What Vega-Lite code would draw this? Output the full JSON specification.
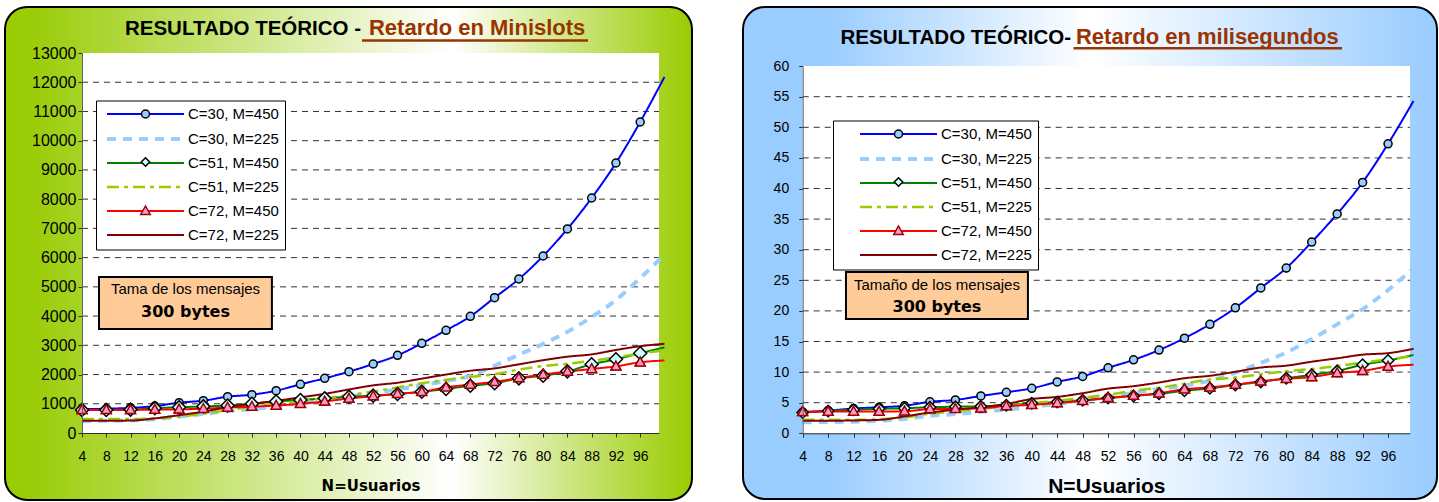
{
  "$schema": "https://vega.github.io/schema/vega-lite/v6.json",
  "padding": {"left": 4, "top": 6, "right": 1, "bottom": 1},
  "background": "white",
  "config": {"font": "Liberation Sans", "view": {"stroke": null}, "axis": {"labelOverlap": false, "labelFlush": false, "grid": false, "tickCount": 100}},
  "datasets": {
    "minislots": [
      {"n": 4, "C=30, M=450": 820, "C=30, M=225": 410, "C=51, M=450": 790, "C=51, M=225": 480, "C=72, M=450": 790, "C=72, M=225": 420},
      {"n": 8, "C=30, M=450": 830, "C=30, M=225": 420, "C=51, M=450": 790, "C=51, M=225": 480, "C=72, M=450": 790, "C=72, M=225": 420},
      {"n": 12, "C=30, M=450": 860, "C=30, M=225": 430, "C=51, M=450": 800, "C=51, M=225": 480, "C=72, M=450": 790, "C=72, M=225": 425},
      {"n": 16, "C=30, M=450": 920, "C=30, M=225": 470, "C=51, M=450": 850, "C=51, M=225": 500, "C=72, M=450": 800, "C=72, M=225": 500},
      {"n": 20, "C=30, M=450": 1037, "C=30, M=225": 560, "C=51, M=450": 880, "C=51, M=225": 560, "C=72, M=450": 810, "C=72, M=225": 610},
      {"n": 24, "C=30, M=450": 1106, "C=30, M=225": 650, "C=51, M=450": 910, "C=51, M=225": 660, "C=72, M=450": 830, "C=72, M=225": 730},
      {"n": 28, "C=30, M=450": 1243, "C=30, M=225": 750, "C=51, M=450": 940, "C=51, M=225": 780, "C=72, M=450": 870, "C=72, M=225": 880},
      {"n": 32, "C=30, M=450": 1311, "C=30, M=225": 820, "C=51, M=450": 1000, "C=51, M=225": 900, "C=72, M=450": 900, "C=72, M=225": 1000},
      {"n": 36, "C=30, M=450": 1448, "C=30, M=225": 910, "C=51, M=450": 1080, "C=51, M=225": 1000, "C=72, M=450": 940, "C=72, M=225": 1100},
      {"n": 40, "C=30, M=450": 1665, "C=30, M=225": 1010, "C=51, M=450": 1130, "C=51, M=225": 1090, "C=72, M=450": 1000, "C=72, M=225": 1220},
      {"n": 44, "C=30, M=450": 1870, "C=30, M=225": 1120, "C=51, M=450": 1185, "C=51, M=225": 1190, "C=72, M=450": 1080, "C=72, M=225": 1340},
      {"n": 48, "C=30, M=450": 2098, "C=30, M=225": 1240, "C=51, M=450": 1240, "C=51, M=225": 1300, "C=72, M=450": 1180, "C=72, M=225": 1490},
      {"n": 52, "C=30, M=450": 2361, "C=30, M=225": 1360, "C=51, M=450": 1277, "C=51, M=225": 1420, "C=72, M=450": 1260, "C=72, M=225": 1630},
      {"n": 56, "C=30, M=450": 2657, "C=30, M=225": 1490, "C=51, M=450": 1334, "C=51, M=225": 1560, "C=72, M=450": 1340, "C=72, M=225": 1720},
      {"n": 60, "C=30, M=450": 3068, "C=30, M=225": 1630, "C=51, M=450": 1413, "C=51, M=225": 1700, "C=72, M=450": 1410, "C=72, M=225": 1860},
      {"n": 64, "C=30, M=450": 3513, "C=30, M=225": 1780, "C=51, M=450": 1505, "C=51, M=225": 1820, "C=72, M=450": 1560, "C=72, M=225": 2000},
      {"n": 68, "C=30, M=450": 3991, "C=30, M=225": 1950, "C=51, M=450": 1618, "C=51, M=225": 1920, "C=72, M=450": 1660, "C=72, M=225": 2130},
      {"n": 72, "C=30, M=450": 4630, "C=30, M=225": 2300, "C=51, M=450": 1700, "C=51, M=225": 2010, "C=72, M=450": 1750, "C=72, M=225": 2210},
      {"n": 76, "C=30, M=450": 5268, "C=30, M=225": 2680, "C=51, M=450": 1870, "C=51, M=225": 2170, "C=72, M=450": 1880, "C=72, M=225": 2350},
      {"n": 80, "C=30, M=450": 6055, "C=30, M=225": 3050, "C=51, M=450": 1960, "C=51, M=225": 2290, "C=72, M=450": 2000, "C=72, M=225": 2490},
      {"n": 84, "C=30, M=450": 6980, "C=30, M=225": 3460, "C=51, M=450": 2110, "C=51, M=225": 2370, "C=72, M=450": 2100, "C=72, M=225": 2610},
      {"n": 88, "C=30, M=450": 8040, "C=30, M=225": 3970, "C=51, M=450": 2350, "C=51, M=225": 2470, "C=72, M=450": 2190, "C=72, M=225": 2690},
      {"n": 92, "C=30, M=450": 9237, "C=30, M=225": 4550, "C=51, M=450": 2521, "C=51, M=225": 2590, "C=72, M=450": 2280, "C=72, M=225": 2840},
      {"n": 96, "C=30, M=450": 10640, "C=30, M=225": 5300, "C=51, M=450": 2727, "C=51, M=225": 2720, "C=72, M=450": 2420, "C=72, M=225": 2970},
      {"n": 100, "C=30, M=450": 12180, "C=30, M=225": 6100, "C=51, M=450": 2932, "C=51, M=225": 2830, "C=72, M=450": 2480, "C=72, M=225": 3050}
    ],
    "ms": [
      {"n": 4, "C=30, M=450": 3.45, "C=30, M=225": 1.8, "C=51, M=450": 3.4, "C=51, M=225": 2.2, "C=72, M=450": 3.5, "C=72, M=225": 2.05},
      {"n": 8, "C=30, M=450": 3.7, "C=30, M=225": 1.85, "C=51, M=450": 3.65, "C=51, M=225": 2.2, "C=72, M=450": 3.55, "C=72, M=225": 2.05},
      {"n": 12, "C=30, M=450": 4.05, "C=30, M=225": 1.9, "C=51, M=450": 3.85, "C=51, M=225": 2.2, "C=72, M=450": 3.55, "C=72, M=225": 2.1},
      {"n": 16, "C=30, M=450": 4.25, "C=30, M=225": 2.05, "C=51, M=450": 4.0, "C=51, M=225": 2.3, "C=72, M=450": 3.55, "C=72, M=225": 2.2},
      {"n": 20, "C=30, M=450": 4.5, "C=30, M=225": 2.35, "C=51, M=450": 4.1, "C=51, M=225": 2.6, "C=72, M=450": 3.6, "C=72, M=225": 2.75},
      {"n": 24, "C=30, M=450": 5.15, "C=30, M=225": 2.85, "C=51, M=450": 4.25, "C=51, M=225": 3.2, "C=72, M=450": 3.95, "C=72, M=225": 3.4},
      {"n": 28, "C=30, M=450": 5.45, "C=30, M=225": 3.15, "C=51, M=450": 4.35, "C=51, M=225": 3.6, "C=72, M=450": 4.0, "C=72, M=225": 3.85},
      {"n": 32, "C=30, M=450": 6.1, "C=30, M=225": 3.5, "C=51, M=450": 4.4, "C=51, M=225": 4.0, "C=72, M=450": 4.1, "C=72, M=225": 4.25},
      {"n": 36, "C=30, M=450": 6.7, "C=30, M=225": 3.9, "C=51, M=450": 4.6, "C=51, M=225": 4.4, "C=72, M=450": 4.45, "C=72, M=225": 4.8},
      {"n": 40, "C=30, M=450": 7.35, "C=30, M=225": 4.3, "C=51, M=450": 4.9, "C=51, M=225": 4.9, "C=72, M=450": 4.65, "C=72, M=225": 5.6},
      {"n": 44, "C=30, M=450": 8.4, "C=30, M=225": 4.8, "C=51, M=450": 5.1, "C=51, M=225": 5.3, "C=72, M=450": 4.95, "C=72, M=225": 5.95},
      {"n": 48, "C=30, M=450": 9.3, "C=30, M=225": 5.35, "C=51, M=450": 5.4, "C=51, M=225": 5.8, "C=72, M=450": 5.3, "C=72, M=225": 6.55},
      {"n": 52, "C=30, M=450": 10.7, "C=30, M=225": 5.95, "C=51, M=450": 5.75, "C=51, M=225": 6.3, "C=72, M=450": 5.8, "C=72, M=225": 7.3},
      {"n": 56, "C=30, M=450": 12.0, "C=30, M=225": 6.6, "C=51, M=450": 6.1, "C=51, M=225": 6.95, "C=72, M=450": 6.15, "C=72, M=225": 7.7},
      {"n": 60, "C=30, M=450": 13.6, "C=30, M=225": 7.2, "C=51, M=450": 6.45, "C=51, M=225": 7.45, "C=72, M=450": 6.55, "C=72, M=225": 8.3},
      {"n": 64, "C=30, M=450": 15.55, "C=30, M=225": 7.8, "C=51, M=450": 6.95, "C=51, M=225": 8.1, "C=72, M=450": 7.2, "C=72, M=225": 9.0},
      {"n": 68, "C=30, M=450": 17.8, "C=30, M=225": 8.6, "C=51, M=450": 7.35, "C=51, M=225": 8.8, "C=72, M=450": 7.5, "C=72, M=225": 9.4},
      {"n": 72, "C=30, M=450": 20.5, "C=30, M=225": 9.9, "C=51, M=450": 7.9, "C=51, M=225": 9.1, "C=72, M=450": 7.95, "C=72, M=225": 10.05},
      {"n": 76, "C=30, M=450": 23.75, "C=30, M=225": 11.5, "C=51, M=450": 8.4, "C=51, M=225": 9.65, "C=72, M=450": 8.5, "C=72, M=225": 10.75},
      {"n": 80, "C=30, M=450": 27.0, "C=30, M=225": 13.2, "C=51, M=450": 9.0, "C=51, M=225": 10.15, "C=72, M=450": 8.9, "C=72, M=225": 11.05},
      {"n": 84, "C=30, M=450": 31.25, "C=30, M=225": 15.4, "C=51, M=450": 9.55, "C=51, M=225": 10.5, "C=72, M=450": 9.2, "C=72, M=225": 11.7},
      {"n": 88, "C=30, M=450": 35.85, "C=30, M=225": 17.8, "C=51, M=450": 10.2, "C=51, M=225": 11.0, "C=72, M=450": 9.85, "C=72, M=225": 12.25},
      {"n": 92, "C=30, M=450": 41.0, "C=30, M=225": 20.3, "C=51, M=450": 11.2, "C=51, M=225": 11.55, "C=72, M=450": 10.2, "C=72, M=225": 12.85},
      {"n": 96, "C=30, M=450": 47.3, "C=30, M=225": 23.4, "C=51, M=450": 11.9, "C=51, M=225": 12.1, "C=72, M=450": 10.9, "C=72, M=225": 13.1},
      {"n": 100, "C=30, M=450": 54.3, "C=30, M=225": 27.0, "C=51, M=450": 12.8, "C=51, M=225": 12.6, "C=72, M=450": 11.2, "C=72, M=225": 13.8}
    ],
    "gridL": [{"g": 1000}, {"g": 2000}, {"g": 3000}, {"g": 4000}, {"g": 5000}, {"g": 6000}, {"g": 7000}, {"g": 8000}, {"g": 9000}, {"g": 10000}, {"g": 11000}, {"g": 12000}],
    "gridR": [{"g": 5}, {"g": 10}, {"g": 15}, {"g": 20}, {"g": 25}, {"g": 30}, {"g": 35}, {"g": 40}, {"g": 45}, {"g": 50}, {"g": 55}]
  },
  "spacing": 51,
  "bounds": "flush",
  "resolve": {
    "scale": {"color": "independent", "strokeDash": "independent", "strokeWidth": "independent", "shape": "independent", "fill": "independent", "stroke": "independent"},
    "legend": {"color": "independent", "strokeDash": "independent", "strokeWidth": "independent", "shape": "independent", "fill": "independent", "stroke": "independent"}
  },
  "hconcat": [
    {
      "width": 687,
      "height": 493,
      "view": {
        "fill": {"gradient": "linear", "x1": 0, "y1": 0, "x2": 1, "y2": 0, "stops": [{"offset": 0, "color": "#99CC00"}, {"offset": 0.04, "color": "#9ACD08"}, {"offset": 0.65, "color": "#FFFFFF"}, {"offset": 1, "color": "#99CC00"}]},
        "stroke": "black", "strokeWidth": 2, "cornerRadius": 22
      },
      "layer": [
        {
          "data": {"values": [{}]},
          "mark": {"type": "rect", "fill": "white"},
          "encoding": {
            "x": {"datum": 4, "type": "quantitative", "axis": {"labelOverlap": false, "tickCount": 100}},
            "x2": {"datum": 99.1},
            "y": {"datum": 0, "type": "quantitative", "title": null, "axis": {"labelOverlap": false, "tickCount": 100}},
            "y2": {"datum": 13000}
          }
        },
        {
          "data": {"name": "gridL"},
          "mark": {"type": "rule", "color": "#333333", "strokeDash": [6, 5], "strokeWidth": 1},
          "encoding": {
            "y": {"field": "g", "type": "quantitative", "title": null, "axis": {"labelOverlap": false, "tickCount": 100}},
            "x": {"datum": 4, "type": "quantitative", "axis": {"labelOverlap": false, "tickCount": 100}},
            "x2": {"datum": 99.1}
          }
        },
        {
          "data": {"name": "minislots"},
          "transform": [{"fold": ["C=30, M=450", "C=30, M=225", "C=51, M=450", "C=51, M=225", "C=72, M=450", "C=72, M=225"], "as": ["serie", "v"]}],
          "mark": {"type": "line", "interpolate": "monotone"},
          "encoding": {
            "x": {"field": "n", "type": "quantitative",
                  "scale": {"domain": [4, 99.1], "range": [77, 654], "nice": false, "zero": false},
                  "axis": {"values": [4, 8, 12, 16, 20, 24, 28, 32, 36, 40, 44, 48, 52, 56, 60, 64, 68, 72, 76, 80, 84, 88, 92, 96], "tickCount": 100, "format": "d", "title": "N=Usuarios", "offset": -67, "grid": false, "domainColor": "#303030", "tickColor": "#303030", "tickSize": 4, "labelFont": "Liberation Sans", "labelFontSize": 14, "labelColor": "black", "labelPadding": 12, "labelFlush": false, "labelOverlap": false, "titleFont": "DejaVu Sans", "titleFontSize": 15, "titleFontWeight": "bold", "titleColor": "black", "titlePadding": 15, "zindex": 1}},
            "y": {"field": "v", "type": "quantitative", "title": null,
                  "scale": {"domain": [0, 13000], "range": [426, 46], "nice": false, "zero": false},
                  "axis": {"values": [0, 1000, 2000, 3000, 4000, 5000, 6000, 7000, 8000, 9000, 10000, 11000, 12000, 13000], "tickCount": 100, "format": "d", "offset": -77, "grid": false, "domainColor": "#606060", "tickColor": "#303030", "tickSize": 4, "labelFont": "Liberation Sans", "labelFontSize": 16, "labelColor": "black", "labelPadding": 2, "labelFlush": false, "labelOverlap": false, "zindex": 1}},
            "color": {"field": "serie", "type": "nominal",
              "scale": {"domain": ["C=30, M=450", "C=30, M=225", "C=51, M=450", "C=51, M=225", "C=72, M=450", "C=72, M=225"], "range": ["#0000FF", "#99CCFF", "#008000", "#99CC00", "#FF0000", "#800000"]},
              "legend": {"orient": "none", "legendX": 91, "legendY": 93.5, "title": null, "symbolType": "M-7.7,0H7.7", "symbolSize": 100, "symbolOffset": 36, "labelFont": "Liberation Sans", "labelFontSize": 15, "labelColor": "black", "labelOffset": 35, "rowPadding": 8, "padding": 6, "fillColor": "white", "strokeColor": "black", "zindex": 1}},
            "strokeDash": {"field": "serie", "type": "nominal",
              "scale": {"domain": ["C=30, M=450", "C=30, M=225", "C=51, M=450", "C=51, M=225", "C=72, M=450", "C=72, M=225"], "range": [[1, 0], [9, 7], [1, 0], [12, 5, 4, 5], [1, 0], [1, 0]]},
              "legend": {"orient": "none", "legendX": 91, "legendY": 93.5, "title": null, "symbolType": "M-7.7,0H7.7", "symbolSize": 100, "symbolOffset": 36, "labelFont": "Liberation Sans", "labelFontSize": 15, "labelColor": "black", "labelOffset": 35, "rowPadding": 8, "padding": 6, "fillColor": "white", "strokeColor": "black", "zindex": 1}},
            "strokeWidth": {"field": "serie", "type": "nominal",
              "scale": {"type": "ordinal", "domain": ["C=30, M=450", "C=30, M=225", "C=51, M=450", "C=51, M=225", "C=72, M=450", "C=72, M=225"], "range": [2, 4, 2, 2.5, 2, 2]},
              "legend": {"orient": "none", "legendX": 91, "legendY": 93.5, "title": null, "symbolType": "M-7.7,0H7.7", "symbolSize": 100, "symbolOffset": 36, "labelFont": "Liberation Sans", "labelFontSize": 15, "labelColor": "black", "labelOffset": 35, "rowPadding": 8, "padding": 6, "fillColor": "white", "strokeColor": "black", "zindex": 1}}
          }
        },
        {
          "data": {"name": "minislots"},
          "transform": [{"fold": ["C=30, M=450", "C=30, M=225", "C=51, M=450", "C=51, M=225", "C=72, M=450", "C=72, M=225"], "as": ["serie", "v"]}, {"filter": "datum.n <= 96"}],
          "mark": {"type": "point", "filled": true, "opacity": 1, "strokeWidth": 1.5, "size": 100},
          "encoding": {
            "x": {"field": "n", "type": "quantitative", "axis": {"labelOverlap": false, "tickCount": 100}},
            "y": {"field": "v", "type": "quantitative", "title": null, "axis": {"labelOverlap": false, "tickCount": 100}},
            "shape": {"field": "serie", "type": "nominal",
              "scale": {"domain": ["C=30, M=450", "C=30, M=225", "C=51, M=450", "C=51, M=225", "C=72, M=450", "C=72, M=225", "C=30, M=450"], "range": ["M0.8,0A0.8,0.8,0,1,1,-0.8,0A0.8,0.8,0,1,1,0.8,0Z", "M0,0", "M0,-0.85L0.85,0L0,0.85L-0.85,0Z", "M0,0", "M0,-1L0.95,0.7L-0.95,0.7Z", "M0,0"]},
              "legend": {"orient": "none", "legendX": 91, "legendY": 93.5, "title": null, "symbolSize": 100, "symbolOffset": 36, "symbolStrokeWidth": 1.5, "labelFont": "Liberation Sans", "labelFontSize": 15, "labelColor": "transparent", "labelOffset": 35, "rowPadding": 8, "padding": 6, "zindex": 2}},
            "fill": {"field": "serie", "type": "nominal",
              "scale": {"domain": ["C=30, M=450", "C=30, M=225", "C=51, M=450", "C=51, M=225", "C=72, M=450", "C=72, M=225", "C=30, M=450"], "range": ["#99CCFF", "transparent", "#CCFFFF", "transparent", "#FF99CC", "transparent"]},
              "legend": {"orient": "none", "legendX": 91, "legendY": 93.5, "title": null, "symbolSize": 100, "symbolOffset": 36, "symbolStrokeWidth": 1.5, "labelFont": "Liberation Sans", "labelFontSize": 15, "labelColor": "transparent", "labelOffset": 35, "rowPadding": 8, "padding": 6, "zindex": 2}},
            "stroke": {"field": "serie", "type": "nominal",
              "scale": {"domain": ["C=30, M=450", "C=30, M=225", "C=51, M=450", "C=51, M=225", "C=72, M=450", "C=72, M=225", "C=30, M=450"], "range": ["black", "transparent", "black", "transparent", "#990000", "transparent"]},
              "legend": {"orient": "none", "legendX": 91, "legendY": 93.5, "title": null, "symbolSize": 100, "symbolOffset": 36, "symbolStrokeWidth": 1.5, "labelFont": "Liberation Sans", "labelFontSize": 15, "labelColor": "transparent", "labelOffset": 35, "rowPadding": 8, "padding": 6, "zindex": 2}}
          }
        },
        {
          "data": {"name": "minislots"},
          "transform": [{"fold": ["C=51, M=450"], "as": ["serie", "v"]}, {"filter": "datum.n <= 96"}],
          "mark": {"type": "point", "filled": true, "opacity": 1, "strokeWidth": 1.5, "size": 234, "shape": "M0,-0.85L0.85,0L0,0.85L-0.85,0Z", "fill": "#CCFFFF", "stroke": "black"},
          "encoding": {
            "x": {"field": "n", "type": "quantitative", "axis": {"labelOverlap": false, "tickCount": 100}},
            "y": {"field": "v", "type": "quantitative", "title": null, "axis": {"labelOverlap": false, "tickCount": 100}}
          }
        },
        {
          "data": {"name": "minislots"},
          "transform": [{"fold": ["C=72, M=450"], "as": ["serie", "v"]}, {"filter": "datum.n <= 96"}],
          "mark": {"type": "point", "filled": true, "opacity": 1, "strokeWidth": 1.5, "size": 110, "shape": "M0,-1L0.95,0.7L-0.95,0.7Z", "fill": "#FF99CC", "stroke": "#990000"},
          "encoding": {
            "x": {"field": "n", "type": "quantitative", "axis": {"labelOverlap": false, "tickCount": 100}},
            "y": {"field": "v", "type": "quantitative", "title": null, "axis": {"labelOverlap": false, "tickCount": 100}}
          }
        },
        {
          "data": {"values": [{}]},
          "mark": {"type": "rect", "fill": "#FFCC99", "stroke": "black", "strokeWidth": 2},
          "encoding": {
            "x": {"datum": 6.8, "type": "quantitative", "axis": {"labelOverlap": false, "tickCount": 100}},
            "x2": {"datum": 35.3},
            "y": {"datum": 5337, "type": "quantitative", "title": null, "axis": {"labelOverlap": false, "tickCount": 100}},
            "y2": {"datum": 3558}
          }
        },
        {
          "data": {"values": [{}]},
          "mark": {"type": "text", "text": "Tama de los mensajes", "font": "Liberation Sans", "fontSize": 15, "color": "black", "align": "center", "baseline": "middle"},
          "encoding": {"x": {"datum": 21.06, "type": "quantitative", "axis": {"labelOverlap": false, "tickCount": 100}}, "y": {"datum": 4926, "type": "quantitative", "title": null, "axis": {"labelOverlap": false, "tickCount": 100}}}
        },
        {
          "data": {"values": [{}]},
          "mark": {"type": "text", "text": "300 bytes", "font": "DejaVu Sans", "fontSize": 16, "fontWeight": "bold", "color": "black", "align": "center", "baseline": "middle"},
          "encoding": {"x": {"datum": 21.06, "type": "quantitative", "axis": {"labelOverlap": false, "tickCount": 100}}, "y": {"datum": 4140, "type": "quantitative", "title": null, "axis": {"labelOverlap": false, "tickCount": 100}}}
        },
        {
          "data": {"values": [{}]},
          "mark": {"type": "text", "text": "RESULTADO TEÓRICO -", "font": "Liberation Sans", "fontSize": 20.5, "fontWeight": "bold", "color": "black", "align": "right", "baseline": "alphabetic"},
          "encoding": {"x": {"datum": 50.0, "type": "quantitative", "axis": {"labelOverlap": false, "tickCount": 100}}, "y": {"datum": 13616, "type": "quantitative", "title": null, "axis": {"labelOverlap": false, "tickCount": 100}}}
        },
        {
          "data": {"values": [{}]},
          "mark": {"type": "text", "text": "Retardo en Minislots", "font": "Liberation Sans", "fontSize": 22, "fontWeight": "bold", "color": "#993300", "align": "left", "baseline": "alphabetic"},
          "encoding": {"x": {"datum": 51.3, "type": "quantitative", "axis": {"labelOverlap": false, "tickCount": 100}}, "y": {"datum": 13616, "type": "quantitative", "title": null, "axis": {"labelOverlap": false, "tickCount": 100}}}
        },
        {
          "data": {"values": [{}]},
          "mark": {"type": "rule", "color": "#993300", "strokeWidth": 2.5},
          "encoding": {"x": {"datum": 50.15, "type": "quantitative", "axis": {"labelOverlap": false, "tickCount": 100}}, "x2": {"datum": 87.4}, "y": {"datum": 13428, "type": "quantitative", "title": null, "axis": {"labelOverlap": false, "tickCount": 100}}}
        }
      ]
    },
    {
      "width": 694,
      "height": 492,
      "view": {
        "fill": {"gradient": "linear", "x1": 0, "y1": 0, "x2": 1, "y2": 0, "stops": [{"offset": 0, "color": "#99CCFF"}, {"offset": 0.12, "color": "#99CCFF"}, {"offset": 0.5, "color": "#FFFFFF"}, {"offset": 1, "color": "#99CCFF"}]},
        "stroke": "black", "strokeWidth": 2, "cornerRadius": 22
      },
      "layer": [
        {
          "data": {"values": [{}]},
          "mark": {"type": "rect", "fill": "white"},
          "encoding": {
            "x": {"datum": 4, "type": "quantitative", "axis": {"labelOverlap": false, "tickCount": 100}},
            "x2": {"datum": 99.45},
            "y": {"datum": 0, "type": "quantitative", "title": null, "axis": {"labelOverlap": false, "tickCount": 100}},
            "y2": {"datum": 60}
          }
        },
        {
          "data": {"name": "gridR"},
          "mark": {"type": "rule", "color": "#333333", "strokeDash": [6, 5], "strokeWidth": 1},
          "encoding": {
            "y": {"field": "g", "type": "quantitative", "title": null, "axis": {"labelOverlap": false, "tickCount": 100}},
            "x": {"datum": 4, "type": "quantitative", "axis": {"labelOverlap": false, "tickCount": 100}},
            "x2": {"datum": 99.45}
          }
        },
        {
          "data": {"name": "ms"},
          "transform": [{"fold": ["C=30, M=450", "C=30, M=225", "C=51, M=450", "C=51, M=225", "C=72, M=450", "C=72, M=225"], "as": ["serie", "v"]}],
          "mark": {"type": "line", "interpolate": "monotone"},
          "encoding": {
            "x": {"field": "n", "type": "quantitative",
                  "scale": {"domain": [4, 99.45], "range": [59.7, 667], "nice": false, "zero": false},
                  "axis": {"values": [4, 8, 12, 16, 20, 24, 28, 32, 36, 40, 44, 48, 52, 56, 60, 64, 68, 72, 76, 80, 84, 88, 92, 96], "tickCount": 100, "format": "d", "title": "N=Usuarios", "offset": -65.7, "grid": false, "domainColor": "#303030", "tickColor": "#303030", "tickSize": 4, "labelFont": "Liberation Sans", "labelFontSize": 14, "labelColor": "black", "labelPadding": 12, "labelFlush": false, "labelOverlap": false, "titleFont": "Liberation Sans", "titleFontSize": 21, "titleFontWeight": "bold", "titleColor": "black", "titlePadding": 12, "zindex": 1}},
            "y": {"field": "v", "type": "quantitative", "title": null,
                  "scale": {"domain": [0, 60], "range": [426.3, 59.1], "nice": false, "zero": false},
                  "axis": {"values": [0, 5, 10, 15, 20, 25, 30, 35, 40, 45, 50, 55, 60], "tickCount": 100, "format": "d", "offset": -59.7, "grid": false, "domainColor": "#606060", "tickColor": "#303030", "tickSize": 4, "labelFont": "Liberation Sans", "labelFontSize": 14, "labelColor": "black", "labelPadding": 10, "labelFlush": false, "labelOverlap": false, "zindex": 1}},
            "color": {"field": "serie", "type": "nominal",
              "scale": {"domain": ["C=30, M=450", "C=30, M=225", "C=51, M=450", "C=51, M=225", "C=72, M=450", "C=72, M=225"], "range": ["#0000FF", "#99CCFF", "#008000", "#99CC00", "#FF0000", "#800000"]},
              "legend": {"orient": "none", "legendX": 90, "legendY": 113.5, "title": null, "symbolType": "M-7.7,0H7.7", "symbolSize": 100, "symbolOffset": 52, "labelFont": "Liberation Sans", "labelFontSize": 15, "labelColor": "black", "labelOffset": 35, "rowPadding": 8, "padding": 6, "fillColor": "white", "strokeColor": "black", "zindex": 1}},
            "strokeDash": {"field": "serie", "type": "nominal",
              "scale": {"domain": ["C=30, M=450", "C=30, M=225", "C=51, M=450", "C=51, M=225", "C=72, M=450", "C=72, M=225"], "range": [[1, 0], [9, 7], [1, 0], [12, 5, 4, 5], [1, 0], [1, 0]]},
              "legend": {"orient": "none", "legendX": 90, "legendY": 113.5, "title": null, "symbolType": "M-7.7,0H7.7", "symbolSize": 100, "symbolOffset": 52, "labelFont": "Liberation Sans", "labelFontSize": 15, "labelColor": "black", "labelOffset": 35, "rowPadding": 8, "padding": 6, "fillColor": "white", "strokeColor": "black", "zindex": 1}},
            "strokeWidth": {"field": "serie", "type": "nominal",
              "scale": {"type": "ordinal", "domain": ["C=30, M=450", "C=30, M=225", "C=51, M=450", "C=51, M=225", "C=72, M=450", "C=72, M=225"], "range": [2, 4, 2, 2.5, 2, 2]},
              "legend": {"orient": "none", "legendX": 90, "legendY": 113.5, "title": null, "symbolType": "M-7.7,0H7.7", "symbolSize": 100, "symbolOffset": 52, "labelFont": "Liberation Sans", "labelFontSize": 15, "labelColor": "black", "labelOffset": 35, "rowPadding": 8, "padding": 6, "fillColor": "white", "strokeColor": "black", "zindex": 1}}
          }
        },
        {
          "data": {"name": "ms"},
          "transform": [{"fold": ["C=30, M=450", "C=30, M=225", "C=51, M=450", "C=51, M=225", "C=72, M=450", "C=72, M=225"], "as": ["serie", "v"]}, {"filter": "datum.n <= 96"}],
          "mark": {"type": "point", "filled": true, "opacity": 1, "strokeWidth": 1.5, "size": 100},
          "encoding": {
            "x": {"field": "n", "type": "quantitative", "axis": {"labelOverlap": false, "tickCount": 100}},
            "y": {"field": "v", "type": "quantitative", "title": null, "axis": {"labelOverlap": false, "tickCount": 100}},
            "shape": {"field": "serie", "type": "nominal",
              "scale": {"domain": ["C=30, M=450", "C=30, M=225", "C=51, M=450", "C=51, M=225", "C=72, M=450", "C=72, M=225", "C=30, M=450"], "range": ["M0.8,0A0.8,0.8,0,1,1,-0.8,0A0.8,0.8,0,1,1,0.8,0Z", "M0,0", "M0,-0.85L0.85,0L0,0.85L-0.85,0Z", "M0,0", "M0,-1L0.95,0.7L-0.95,0.7Z", "M0,0"]},
              "legend": {"orient": "none", "legendX": 90, "legendY": 113.5, "title": null, "symbolSize": 100, "symbolOffset": 52, "symbolStrokeWidth": 1.5, "labelFont": "Liberation Sans", "labelFontSize": 15, "labelColor": "transparent", "labelOffset": 35, "rowPadding": 8, "padding": 6, "zindex": 2}},
            "fill": {"field": "serie", "type": "nominal",
              "scale": {"domain": ["C=30, M=450", "C=30, M=225", "C=51, M=450", "C=51, M=225", "C=72, M=450", "C=72, M=225", "C=30, M=450"], "range": ["#99CCFF", "transparent", "#CCFFFF", "transparent", "#FF99CC", "transparent"]},
              "legend": {"orient": "none", "legendX": 90, "legendY": 113.5, "title": null, "symbolSize": 100, "symbolOffset": 52, "symbolStrokeWidth": 1.5, "labelFont": "Liberation Sans", "labelFontSize": 15, "labelColor": "transparent", "labelOffset": 35, "rowPadding": 8, "padding": 6, "zindex": 2}},
            "stroke": {"field": "serie", "type": "nominal",
              "scale": {"domain": ["C=30, M=450", "C=30, M=225", "C=51, M=450", "C=51, M=225", "C=72, M=450", "C=72, M=225", "C=30, M=450"], "range": ["black", "transparent", "black", "transparent", "#990000", "transparent"]},
              "legend": {"orient": "none", "legendX": 90, "legendY": 113.5, "title": null, "symbolSize": 100, "symbolOffset": 52, "symbolStrokeWidth": 1.5, "labelFont": "Liberation Sans", "labelFontSize": 15, "labelColor": "transparent", "labelOffset": 35, "rowPadding": 8, "padding": 6, "zindex": 2}}
          }
        },
        {
          "data": {"name": "ms"},
          "transform": [{"fold": ["C=51, M=450"], "as": ["serie", "v"]}, {"filter": "datum.n <= 96"}],
          "mark": {"type": "point", "filled": true, "opacity": 1, "strokeWidth": 1.5, "size": 180, "shape": "M0,-0.85L0.85,0L0,0.85L-0.85,0Z", "fill": "#CCFFFF", "stroke": "black"},
          "encoding": {
            "x": {"field": "n", "type": "quantitative", "axis": {"labelOverlap": false, "tickCount": 100}},
            "y": {"field": "v", "type": "quantitative", "title": null, "axis": {"labelOverlap": false, "tickCount": 100}}
          }
        },
        {
          "data": {"name": "ms"},
          "transform": [{"fold": ["C=72, M=450"], "as": ["serie", "v"]}, {"filter": "datum.n <= 96"}],
          "mark": {"type": "point", "filled": true, "opacity": 1, "strokeWidth": 1.5, "size": 110, "shape": "M0,-1L0.95,0.7L-0.95,0.7Z", "fill": "#FF99CC", "stroke": "#990000"},
          "encoding": {
            "x": {"field": "n", "type": "quantitative", "axis": {"labelOverlap": false, "tickCount": 100}},
            "y": {"field": "v", "type": "quantitative", "title": null, "axis": {"labelOverlap": false, "tickCount": 100}}
          }
        },
        {
          "data": {"values": [{}]},
          "mark": {"type": "rect", "fill": "#FFCC99", "stroke": "black", "strokeWidth": 2},
          "encoding": {
            "x": {"datum": 10.8, "type": "quantitative", "axis": {"labelOverlap": false, "tickCount": 100}},
            "x2": {"datum": 39.4},
            "y": {"datum": 26.36, "type": "quantitative", "title": null, "axis": {"labelOverlap": false, "tickCount": 100}},
            "y2": {"datum": 18.68}
          }
        },
        {
          "data": {"values": [{}]},
          "mark": {"type": "text", "text": "Tamaño de los mensajes", "font": "Liberation Sans", "fontSize": 15, "color": "black", "align": "center", "baseline": "middle"},
          "encoding": {"x": {"datum": 25.1, "type": "quantitative", "axis": {"labelOverlap": false, "tickCount": 100}}, "y": {"datum": 24.23, "type": "quantitative", "title": null, "axis": {"labelOverlap": false, "tickCount": 100}}}
        },
        {
          "data": {"values": [{}]},
          "mark": {"type": "text", "text": "300 bytes", "font": "DejaVu Sans", "fontSize": 16, "fontWeight": "bold", "color": "black", "align": "center", "baseline": "middle"},
          "encoding": {"x": {"datum": 25.1, "type": "quantitative", "axis": {"labelOverlap": false, "tickCount": 100}}, "y": {"datum": 20.64, "type": "quantitative", "title": null, "axis": {"labelOverlap": false, "tickCount": 100}}}
        },
        {
          "data": {"values": [{}]},
          "mark": {"type": "text", "text": "RESULTADO TEÓRICO-", "font": "Liberation Sans", "fontSize": 20.5, "fontWeight": "bold", "color": "black", "align": "right", "baseline": "alphabetic"},
          "encoding": {"x": {"datum": 46.17, "type": "quantitative", "axis": {"labelOverlap": false, "tickCount": 100}}, "y": {"datum": 63.61, "type": "quantitative", "title": null, "axis": {"labelOverlap": false, "tickCount": 100}}}
        },
        {
          "data": {"values": [{}]},
          "mark": {"type": "text", "text": "Retardo en milisegundos", "font": "Liberation Sans", "fontSize": 22, "fontWeight": "bold", "color": "#993300", "align": "left", "baseline": "alphabetic"},
          "encoding": {"x": {"datum": 46.95, "type": "quantitative", "axis": {"labelOverlap": false, "tickCount": 100}}, "y": {"datum": 63.61, "type": "quantitative", "title": null, "axis": {"labelOverlap": false, "tickCount": 100}}}
        },
        {
          "data": {"values": [{}]},
          "mark": {"type": "rule", "color": "#993300", "strokeWidth": 2.5},
          "encoding": {"x": {"datum": 46.56, "type": "quantitative", "axis": {"labelOverlap": false, "tickCount": 100}}, "x2": {"datum": 88.76}, "y": {"datum": 62.91, "type": "quantitative", "title": null, "axis": {"labelOverlap": false, "tickCount": 100}}}
        }
      ]
    }
  ]
}
